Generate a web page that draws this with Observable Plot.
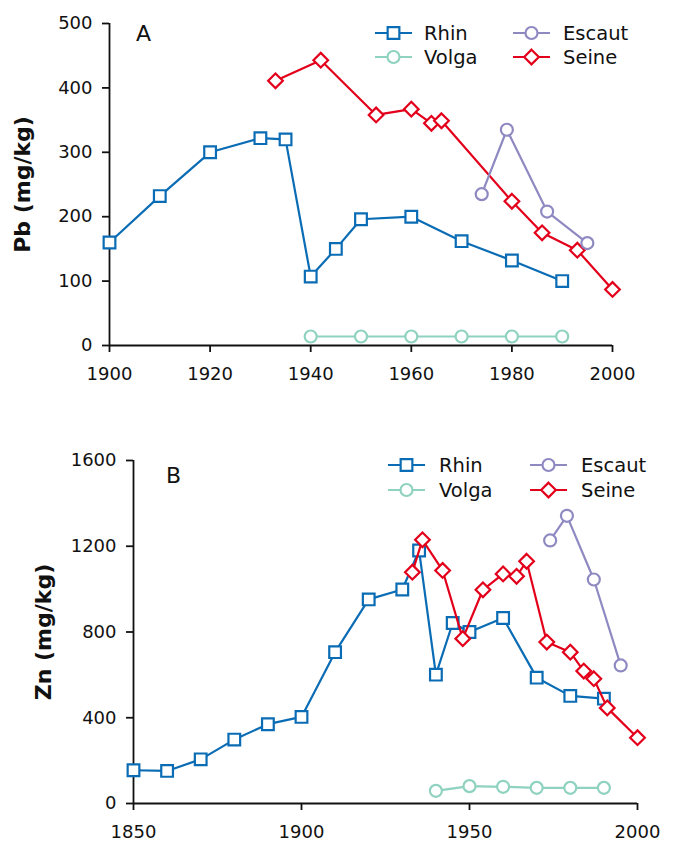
<!DOCTYPE html>
<html>
<head>
<meta charset="utf-8">
<script src="https://cdn.jsdelivr.net/npm/d3@7"></script>
<script src="https://cdn.jsdelivr.net/npm/@observablehq/plot@0.6"></script>
<style>
  body { margin: 0; background: #fff; font-family: "DejaVu Sans", sans-serif; }
  .panel { position: relative; width: 676px; }
  .panel > svg { display: block; }
  .overlay { position: absolute; left: 0; top: 0; pointer-events: none; }
  g[aria-label="y-axis label"], g[aria-label="y-axis label"] text { font-size: 22px; font-weight: bold; }
</style>
</head>
<body>
<div id="chart"></div>
<script>
// ---------- Data ----------
const seriesNames = ["Rhin", "Volga", "Escaut", "Seine"];
const seriesColors = ["#0a6cb4", "#8ed2bf", "#8f89c2", "#e3001b"];
const seriesSymbols = ["square", "circle", "circle", "diamond2"];

// Panel A : Pb (mg/kg)
const rhinPbYears = [1900, 1910, 1920, 1930, 1935, 1940, 1945, 1950, 1960, 1970, 1980, 1990];
const rhinPb      = [160, 232, 300, 322, 320, 107, 150, 196, 200, 162, 132, 100];
const volgaPbYears = [1940, 1950, 1960, 1970, 1980, 1990];
const volgaPb      = [14, 14, 14, 14, 14, 14];
const escautPbYears = [1974, 1979, 1987, 1995];
const escautPb      = [235, 335, 208, 159];
const seinePbYears = [1933, 1942, 1953, 1960, 1964, 1966, 1980, 1986, 1993, 2000];
const seinePb      = [411, 443, 358, 367, 345, 349, 224, 175, 148, 87];

// Panel B : Zn (mg/kg)
const rhinZnYears = [1850, 1860, 1870, 1880, 1890, 1900, 1910, 1920, 1930, 1935, 1940, 1945, 1950, 1960, 1970, 1980, 1990];
const rhinZn      = [155, 152, 206, 298, 370, 404, 706, 952, 998, 1180, 601, 842, 800, 865, 587, 502, 489];
const volgaZnYears = [1940, 1950, 1960, 1970, 1980, 1990];
const volgaZn      = [59, 81, 78, 73, 73, 73];
const escautZnYears = [1974, 1979, 1987, 1995];
const escautZn      = [1227, 1342, 1045, 644];
const seineZnYears = [1933, 1936, 1942, 1948, 1954, 1960, 1964, 1967, 1973, 1980, 1984, 1987, 1991, 2000];
const seineZn      = [1079, 1230, 1087, 769, 997, 1071, 1060, 1130, 753, 706, 618, 582, 446, 307];

// Axis ticks
const xTicksA = [1900, 1920, 1940, 1960, 1980, 2000];
const yTicksA = [0, 100, 200, 300, 400, 500];
const xTicksB = [1850, 1900, 1950, 2000];
const yTicksB = [0, 400, 800, 1200, 1600];

// ---------- Build ----------
function rows(years, values) { return years.map((year, i) => ({year, value: values[i]})); }

const panels = [
  {
    letter: "A", label: "Pb (mg/kg)", xDomain: [1900, 2000], yDomain: [0, 500],
    xTicks: xTicksA, yTicks: yTicksA,
    series: [rows(rhinPbYears, rhinPb), rows(volgaPbYears, volgaPb), rows(escautPbYears, escautPb), rows(seinePbYears, seinePb)],
    height: 415, marginTop: 23, marginBottom: 70, marginLeft: 109, marginRight: 64, labelOffset: 95,
    letterPos: [136, 41], legendRows: [33, 57], legendCols: [[375, 424], [513, 563]]
  },
  {
    letter: "B", label: "Zn (mg/kg)", xDomain: [1850, 2000], yDomain: [0, 1600],
    xTicks: xTicksB, yTicks: yTicksB,
    series: [rows(rhinZnYears, rhinZn), rows(volgaZnYears, volgaZn), rows(escautZnYears, escautZn), rows(seineZnYears, seineZn)],
    height: 427, marginTop: 45, marginBottom: 39, marginLeft: 133, marginRight: 39, labelOffset: 98,
    letterPos: [166, 483 - 415], legendRows: [465 - 415, 490 - 415], legendCols: [[388, 439], [530, 581]]
  }
];

const drawOrder = [0, 1, 3, 2]; // Rhin, Volga, Seine, Escaut
const symR = [6.6, 6, 6, 6.6];

for (const p of panels) {
  const marks = [];
  for (const i of drawOrder) {
    marks.push(Plot.line(p.series[i], {x: "year", y: "value", stroke: seriesColors[i], strokeWidth: 2.2}));
    marks.push(Plot.dot(p.series[i], {x: "year", y: "value", symbol: seriesSymbols[i], r: symR[i], stroke: seriesColors[i], fill: "white", strokeWidth: 2.2}));
  }
  const chart = Plot.plot({
    width: 676, height: p.height,
    marginTop: p.marginTop, marginBottom: p.marginBottom, marginLeft: p.marginLeft, marginRight: p.marginRight,
    style: {fontFamily: "DejaVu Sans, sans-serif", fontSize: "18px", color: "#111", background: "white", overflow: "visible"},
    x: {domain: p.xDomain},
    y: {domain: p.yDomain},
    marks: [
      Plot.axisX({ticks: p.xTicks, tickFormat: d => String(d), tickSize: 7, tickPadding: 15, strokeWidth: 1.8, label: null}),
      Plot.axisY({ticks: p.yTicks, tickFormat: d => String(d), tickSize: 7, tickPadding: 10, strokeWidth: 1.8,
        label: p.label, labelAnchor: "center", labelArrow: "none", labelOffset: p.labelOffset}),
      Plot.ruleY([p.yDomain[0]], {strokeWidth: 1.8, stroke: "#111"}),
      Plot.ruleX([p.xDomain[0]], {strokeWidth: 1.8, stroke: "#111"}),
      ...marks
    ]
  });

  const wrap = document.createElement("div");
  wrap.className = "panel";
  wrap.style.height = p.height + "px";
  wrap.appendChild(chart);
  document.getElementById("chart").appendChild(wrap);

  // overlay: panel letter and legend
  const ov = d3.select(wrap).append("svg").attr("class", "overlay")
    .attr("width", 676).attr("height", p.height);
  ov.append("text").attr("x", p.letterPos[0]).attr("y", p.letterPos[1])
    .attr("font-size", 22).attr("font-family", "DejaVu Sans, sans-serif").attr("fill", "#111").text(p.letter);

  const legendLayout = [[0, 0], [1, 0], [0, 1], [1, 1]]; // [row, col] for Rhin, Volga, Escaut, Seine
  seriesNames.forEach((name, i) => {
    const [row, col] = legendLayout[i];
    const y = p.legendRows[row];
    const [x0, tx] = p.legendCols[col];
    const sw = 37;
    const g = ov.append("g");
    g.append("line").attr("x1", x0).attr("x2", x0 + sw).attr("y1", y).attr("y2", y)
      .attr("stroke", seriesColors[i]).attr("stroke-width", 2.2);
    const sym = {square: d3.symbolSquare, circle: d3.symbolCircle, diamond2: d3.symbolDiamond2}[seriesSymbols[i]];
    g.append("path").attr("d", d3.symbol(sym, Math.PI * symR[i] * symR[i])())
      .attr("transform", `translate(${x0 + sw / 2},${y})`)
      .attr("fill", "white").attr("stroke", seriesColors[i]).attr("stroke-width", 2.2);
    g.append("text").attr("x", tx).attr("y", y).attr("dy", "0.36em")
      .attr("font-size", 19.5).attr("font-family", "DejaVu Sans, sans-serif").attr("fill", "#111").text(name);
  });
}
</script>
</body>
</html>
